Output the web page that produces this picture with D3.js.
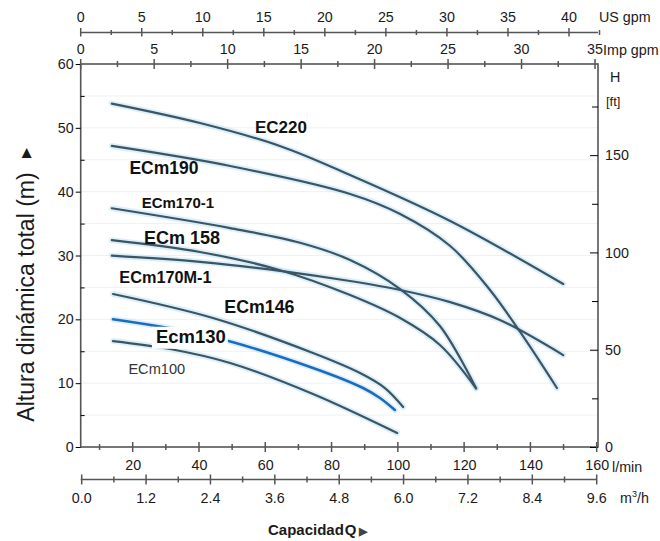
<!DOCTYPE html>
<html>
<head>
<meta charset="utf-8">
<script src="https://cdn.jsdelivr.net/npm/d3@7"></script>
<style>
html,body{margin:0;padding:0;background:#fff;}
svg{display:block;font-family:Arial,"Liberation Sans",sans-serif;}
</style>
</head>
<body>
<svg id="chart" width="660" height="541"></svg>
<script>
// ---- DATA (flow Q in l/min, head H in m) ----
const seriesNames = ["EC220","ECm190","ECm170-1","ECm 158","ECm170M-1","ECm146","Ecm130","ECm100"];
const EC220    = [[13.7,53.8],[40.3,50.76],[64.4,47.16],[85.6,42.61],[115.8,35.41],[149.9,25.54]];
const ECm190   = [[13.7,47.16],[49.4,44.02],[85.6,39.64],[100.7,36.5],[115.8,31.49],[127.8,24.6],[136.9,18.02],[148.0,9.24]];
const ECm170_1 = [[13.7,37.4],[49.4,34.3],[70.5,32.0],[85.6,29.3],[100.7,24.75],[112.7,18.96],[123.6,9.2]];
const ECm158   = [[13.7,32.4],[40.3,30.55],[64.5,27.7],[85.6,23.8],[100.7,20.2],[112.7,15.98],[123.6,9.2]];
const ECm170M_1= [[13.7,29.97],[40.3,29.0],[64.5,27.6],[85.6,26.0],[100.7,24.6],[115.8,22.7],[130.8,19.9],[149.9,14.4]];
const ECm146   = [[14.06,23.97],[44.2,20.21],[74.4,14.73],[88.6,11.59],[96.1,9.24],[101.6,6.27]];
const Ecm130   = [[14.06,20.0],[44.2,17.23],[74.4,12.38],[89.5,9.24],[94.6,7.68],[99.1,5.8]];
const ECm100   = [[14.06,16.6],[31.3,15.35],[49.4,13.16],[74.4,8.3],[99.8,2.19]];
const seriesValues = [EC220,ECm190,ECm170_1,ECm158,ECm170M_1,ECm146,Ecm130,ECm100];

// ---- TICK LABELS ----
const lpmTicks = [20,40,60,80,100,120,140,160];
const m3hTicks = [0,1.2,2.4,3.6,4.8,6.0,7.2,8.4,9.6];
const usGpmTicks = [0,5,10,15,20,25,30,35,40];
const impGpmTicks = [0,5,10,15,20,25,30,35];
const mTicks = [0,10,20,30,40,50,60];
const ftTicks = [0,50,100,150];

// ---- label placement (data units: l/min, m) ----
const labelAt = [[56.9,49.17],[19.0,42.77],[22.7,37.4],[23.4,31.76],[15.96,25.76],[47.65,21.0],[27.0,16.33],[18.7,11.43]];
const labelStyle = [
  {size:17,weight:"bold"},{size:17.5,weight:"bold"},{size:15,weight:"bold"},{size:18,weight:"bold"},
  {size:16.3,weight:"bold"},{size:17.8,weight:"bold"},{size:18.5,weight:"bold",box:true},{size:14.6,weight:"normal",fill:"#333"}
];

const svg = d3.select("#chart");
const L = 80.7, R = 598, T = 64, B = 447;

const x = d3.scaleLinear().domain([20,160]).range([132.7,596.7]);
const xM3 = d3.scaleLinear().domain([0,9.6]).range([81.7,596.7]);
const xUS = d3.scaleLinear().domain([0,40]).range([80.7,569]);
const xImp = d3.scaleLinear().domain([0,35]).range([80.7,595]);
const y = d3.scaleLinear().domain([0,60]).range([B,T]);
const yFt = d3.scaleLinear().domain([0,60/0.3048]).range([B,T]);

const axisCol = "#555", textCol = "#1a1a1a";

// faint grid
svg.append("g").selectAll("line").data(d3.range(5,60,5)).join("line")
  .attr("x1",L).attr("x2",R).attr("y1",d=>y(d)).attr("y2",d=>y(d))
  .attr("stroke","#eef1f4").attr("stroke-width",1);

// frame
svg.append("rect").attr("x",L).attr("y",T).attr("width",R-L).attr("height",B-T)
  .attr("fill","none").attr("stroke",axisCol).attr("stroke-width",1.6);

// left axis (m)
const gl = svg.append("g").attr("transform",`translate(${L},0)`);
gl.append("g").call(d3.axisLeft(y).tickValues(mTicks).tickSize(5).tickPadding(2).tickFormat(d3.format("d")));
gl.append("g").call(d3.axisRight(y).tickValues(d3.range(5,60,10)).tickSize(4).tickFormat(""));
// right axis (ft)
const gr = svg.append("g").attr("transform",`translate(${R},0)`);
gr.append("g").call(d3.axisLeft(yFt).tickValues(ftTicks).tickSize(8).tickFormat(""));
gr.append("g").call(d3.axisLeft(yFt).tickValues([25,75,125,175]).tickSize(6).tickFormat(""));
gr.append("g").call(d3.axisRight(yFt).tickValues(ftTicks).tickSize(0).tickPadding(7).tickFormat(d3.format("d")));

// bottom l/min axis
const gb = svg.append("g").attr("transform",`translate(0,${B})`);
gb.append("g").call(d3.axisBottom(x).tickValues(lpmTicks).tickSize(0).tickPadding(13).tickFormat(d3.format("d")));
gb.append("g").selectAll("line").data(lpmTicks).join("line")
  .attr("x1",d=>x(d)).attr("x2",d=>x(d)).attr("y1",-5).attr("y2",5);
gb.append("g").selectAll("line").data(d3.range(10,160,20)).join("line")
  .attr("x1",d=>x(d)).attr("x2",d=>x(d)).attr("y1",-3).attr("y2",3);

// m3/h axis
const Ym3 = 479.5;
const gm = svg.append("g").attr("transform",`translate(0,${Ym3})`);
gm.append("line").attr("x1",xM3(0)-1).attr("x2",xM3(9.6)).attr("y1",0).attr("y2",0);
gm.append("g").selectAll("line").data(m3hTicks).join("line")
  .attr("x1",d=>xM3(d)).attr("x2",d=>xM3(d)).attr("y1",-5).attr("y2",5);
gm.append("g").selectAll("line").data(d3.range(0.6,9.6,1.2)).join("line")
  .attr("x1",d=>xM3(d)).attr("x2",d=>xM3(d)).attr("y1",-3).attr("y2",3);
gm.append("g").selectAll("text").data(m3hTicks).join("text")
  .attr("x",d=>xM3(d)).attr("y",23).attr("text-anchor","middle").text(d=>d3.format(".1f")(d));

// US gpm axis
const Yus = 32.5;
const gu = svg.append("g").attr("transform",`translate(0,${Yus})`);
gu.append("line").attr("x1",xUS(0)).attr("x2",R).attr("y1",0).attr("y2",0);
gu.append("g").selectAll("line").data(usGpmTicks).join("line")
  .attr("x1",d=>xUS(d)).attr("x2",d=>xUS(d)).attr("y1",-4.5).attr("y2",4);
gu.append("g").selectAll("line").data(d3.range(2.5,45,5)).join("line")
  .attr("x1",d=>xUS(d)).attr("x2",d=>xUS(d)).attr("y1",-2.5).attr("y2",2.5);
gu.append("g").selectAll("text").data(usGpmTicks).join("text")
  .attr("x",d=>xUS(d)).attr("y",-10.5).attr("text-anchor","middle").text(d=>d);

// Imp gpm axis (top frame)
const gi = svg.append("g").attr("transform",`translate(0,${T})`);
gi.append("g").selectAll("line").data(impGpmTicks).join("line")
  .attr("x1",d=>xImp(d)).attr("x2",d=>xImp(d)).attr("y1",-5).attr("y2",5);
gi.append("g").selectAll("line").data(d3.range(2.5,35,5)).join("line")
  .attr("x1",d=>xImp(d)).attr("x2",d=>xImp(d)).attr("y1",-3).attr("y2",3);
gi.append("g").selectAll("text").data(impGpmTicks).join("text")
  .attr("x",d=>xImp(d)).attr("y",-10).attr("text-anchor","middle").text(d=>d);

// style axes
svg.selectAll(".domain").remove();
svg.selectAll("line").filter(function(){return !this.getAttribute("stroke");})
  .attr("stroke",axisCol).attr("stroke-width",1.5);
svg.selectAll("text").attr("fill",textCol).attr("font-size",14.3).attr("font-family","Arial, 'Liberation Sans', sans-serif");
svg.selectAll(".tick text").attr("fill",textCol).attr("font-size",14.3);

// unit texts
const unit = (t,xx,yy,opts={}) => svg.append("text").attr("x",xx).attr("y",yy)
  .attr("font-size",opts.size||14.3).attr("font-weight",opts.weight||"normal").attr("fill",textCol)
  .attr("text-anchor",opts.anchor||"start").text(t);
unit("US gpm",599,22);
unit("Imp gpm",603,54.5);
unit("H",610,82);
unit("[ft]",606,106,{size:13});
unit("l/min",612,471.5);
const m3 = svg.append("text").attr("x",620).attr("y",502.5).attr("font-size",14.3).attr("fill",textCol);
m3.append("tspan").text("m");
m3.append("tspan").attr("dy",-6).attr("font-size",9).text("3");
m3.append("tspan").attr("dy",6).text("/h");

// x title
const xt = svg.append("text").attr("x",268).attr("y",535).attr("font-size",15).attr("font-weight","bold").attr("fill",textCol);
xt.append("tspan").text("Capacidad");
xt.append("tspan").attr("dx",1).text("Q");
xt.append("tspan").attr("dx",2).attr("font-size",11).attr("fill","#444").text("\u25B6");

// y title
svg.append("text").attr("transform","translate(34,297) rotate(-90)")
  .attr("text-anchor","middle").attr("font-size",23).attr("fill",textCol)
  .text("Altura dinámica total (m)");
svg.append("text").attr("transform","translate(30,153) rotate(-90)")
  .attr("text-anchor","middle").attr("font-size",13).attr("fill",textCol).text("\u25B6");

// curves
const line = d3.line().x(d=>x(d[0])).y(d=>y(d[1])).curve(d3.curveCatmullRom.alpha(0.5));
const gc = svg.append("g");
seriesValues.forEach((s,i)=>{
  gc.append("path").attr("d",line(s)).attr("fill","none")
    .attr("stroke","#bfe4f6").attr("stroke-width",6).attr("stroke-opacity",0.55).attr("stroke-linecap","round");
});
seriesValues.forEach((s,i)=>{
  gc.append("path").attr("d",line(s)).attr("fill","none")
    .attr("stroke", seriesNames[i]==="Ecm130" ? "#1a6cc0" : "#3c5463")
    .attr("stroke-width", seriesNames[i]==="Ecm130" ? 2.6 : 2.2).attr("stroke-linecap","round");
});

// series labels
seriesNames.forEach((n,i)=>{
  const st = labelStyle[i];
  const t = svg.append("text").attr("x",x(labelAt[i][0])).attr("y",y(labelAt[i][1]))
    .attr("font-size",st.size).attr("font-weight",st.weight).attr("fill",st.fill||"#111").text(n);
  if(st.box){
    const bb = t.node().getBBox();
    svg.insert("rect", () => t.node()).attr("x",bb.x-4).attr("y",bb.y+1).attr("width",bb.width+6).attr("height",bb.height+1).attr("fill","#fff");
  }
});
</script>
</body>
</html>
